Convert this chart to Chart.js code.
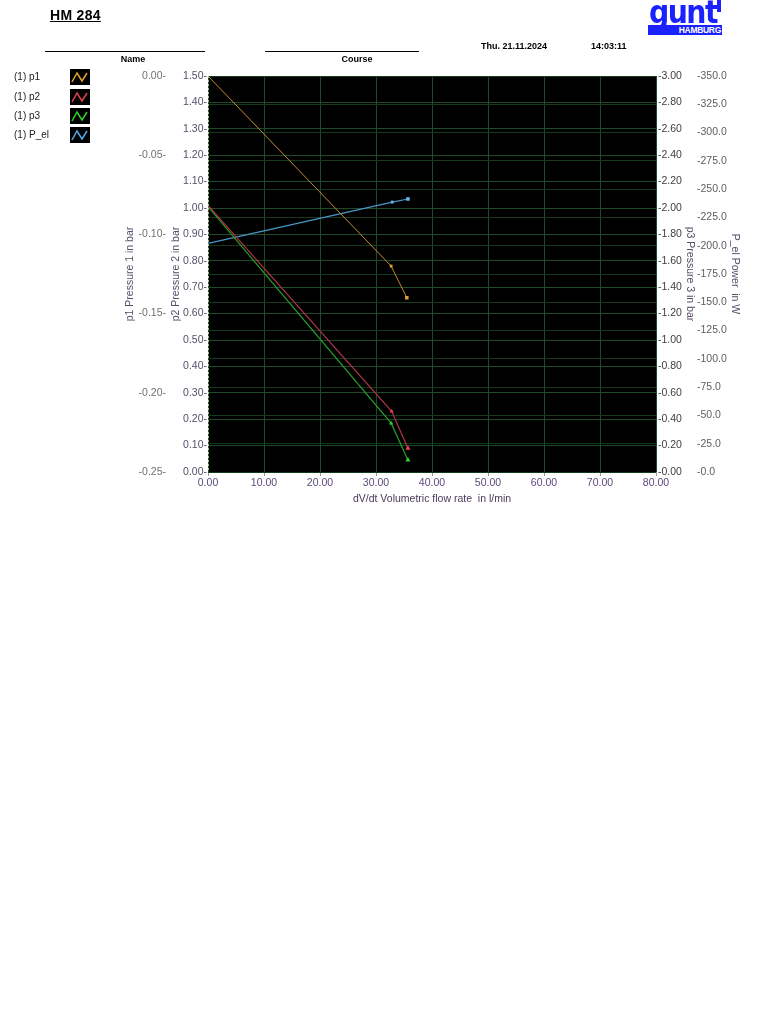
<!DOCTYPE html>
<html><head><meta charset="utf-8">
<script src="https://cdn.jsdelivr.net/npm/chart.js@4"></script>
<style>
body{margin:0;background:#fff;width:768px;height:1024px;position:relative;font-family:"Liberation Sans Narrow","Liberation Sans",Arial,sans-serif;overflow:hidden}
#wrap{position:absolute;left:0;top:0;width:768px;height:508px;}
.t{position:absolute;white-space:nowrap;font-size:10px;color:#000}
.ln{position:absolute;height:0;border-top:1px solid #000}
.lg{position:absolute;left:14px;font-family:"Liberation Sans",Arial,sans-serif;font-size:10px;color:#222}
.ic{position:absolute;left:70px;width:20px;height:16px}
</style></head><body>
<div id="wrap"><canvas id="c" width="768" height="508"></canvas></div>

<div class="t" style="left:50px;top:7px;font-size:14px;font-weight:bold;text-decoration:underline;letter-spacing:0.3px">HM 284</div>
<div class="ln" style="left:45px;top:51px;width:160px"></div>
<div class="t" style="left:105px;top:54px;width:56px;text-align:center;font-weight:bold;font-size:9px">Name</div>
<div class="ln" style="left:265px;top:51px;width:154px"></div>
<div class="t" style="left:315px;top:54px;width:84px;text-align:center;font-weight:bold;font-size:9px">Course</div>
<div class="t" style="left:481px;top:41px;font-weight:bold;font-size:9px">Thu. 21.11.2024</div>
<div class="t" style="left:591px;top:41px;font-weight:bold;font-size:9px">14:03:11</div>

<div style="position:absolute;left:648px;top:0px;width:75px;height:36px;overflow:hidden">
  <div style="position:absolute;left:1px;top:-3px;font-family:'DejaVu Sans',sans-serif;font-weight:bold;font-size:27px;color:#1a22ff;letter-spacing:-1.5px;line-height:27px;transform:scale(1.05,1.15);transform-origin:0 0">gunt</div>
  <div style="position:absolute;left:0;top:25px;width:74px;height:10px;background:#1a22ff;color:#fff;font-size:8.5px;line-height:10px;text-align:right;font-family:'Liberation Sans',sans-serif;font-weight:bold;padding-right:1px;box-sizing:border-box;letter-spacing:-0.3px">HAMBURG</div>
</div>
<div style="position:absolute;left:717px;top:0px;width:4px;height:12px;background:#1a22ff"></div>

<div class="lg" style="top:71px">(1) p1</div>
<div class="lg" style="top:91px">(1) p2</div>
<div class="lg" style="top:110px">(1) p3</div>
<div class="lg" style="top:129px">(1) P_el</div>
<svg class="ic" style="top:69px" viewBox="0 0 20 16"><rect width="20" height="16" fill="#000"/><polyline points="2,13 7,4 12,12 17,4" fill="none" stroke="#e0a030" stroke-width="1.5"/></svg>
<svg class="ic" style="top:89px" viewBox="0 0 20 16"><rect width="20" height="16" fill="#000"/><polyline points="2,13 7,4 12,12 17,4" fill="none" stroke="#e04050" stroke-width="1.5"/></svg>
<svg class="ic" style="top:108px" viewBox="0 0 20 16"><rect width="20" height="16" fill="#000"/><polyline points="2,13 7,4 12,12 17,4" fill="none" stroke="#30d030" stroke-width="1.5"/></svg>
<svg class="ic" style="top:127px" viewBox="0 0 20 16"><rect width="20" height="16" fill="#000"/><polyline points="2,13 7,4 12,12 17,4" fill="none" stroke="#50a8e8" stroke-width="1.5"/></svg>

<script>
// ---- data ----
const flowP1 = [0, 32.7, 35.5];
const p1Values = [0.00, -0.12, -0.14];
const flowP2 = [0, 32.8, 35.7];
const p2Values = [1.01, 0.23, 0.09];
const flowP3 = [0, 32.7, 35.7];
const p3Values = [-2.01, -0.37, -0.09];
const flowPel = [0, 32.9, 35.7];
const pelValues = [-202, -238.6, -241.3];

// ---- tick labels ----
const xTicks = [0, 10, 20, 30, 40, 50, 60, 70, 80];
const p1Ticks = [0, -0.05, -0.10, -0.15, -0.20, -0.25];
const p2Ticks = [0, 0.1, 0.2, 0.3, 0.4, 0.5, 0.6, 0.7, 0.8, 0.9, 1.0, 1.1, 1.2, 1.3, 1.4, 1.5];
const p3Ticks = [-3.0, -2.8, -2.6, -2.4, -2.2, -2.0, -1.8, -1.6, -1.4, -1.2, -1.0, -0.8, -0.6, -0.4, -0.2, 0];
const pelTicks = [-350, -325, -300, -275, -250, -225, -200, -175, -150, -125, -100, -75, -50, -25, 0];

const pts = (xs, ys) => xs.map((x, i) => ({x: x, y: ys[i]}));
const setTicks = arr => (s => { s.ticks = arr.map(v => ({value: v})); });
const FONT = {family: "'Liberation Sans', Arial, sans-serif", size: 10.5};
const TFONT = {family: "'Liberation Sans', Arial, sans-serif", size: 10.5};

const bg = {
  id: 'bg',
  beforeDraw(chart) {
    const a = chart.chartArea, ctx = chart.ctx;
    ctx.save(); ctx.fillStyle = '#000';
    ctx.fillRect(a.left, a.top, a.right - a.left, a.bottom - a.top);
    ctx.restore();
  }
};

new Chart(document.getElementById('c'), {
  type: 'line',
  data: {
    datasets: [
      {label: 'p1', data: pts(flowP1, p1Values), yAxisID: 'yP1', borderColor: '#c88a30', backgroundColor: '#e0a030', borderWidth: 1, pointStyle: 'rect', pointRadius: [0, 2, 2.5], pointBorderWidth: 0},
      {label: 'p2', data: pts(flowP2, p2Values), yAxisID: 'yP2', borderColor: '#b03545', backgroundColor: '#e04050', borderWidth: 1.2, pointStyle: 'triangle', pointRadius: [0, 2.5, 3], pointBorderWidth: 0},
      {label: 'p3', data: pts(flowP3, p3Values), yAxisID: 'yP3', borderColor: '#28a028', backgroundColor: '#30d030', borderWidth: 1.2, pointStyle: 'triangle', pointRadius: [0, 2.5, 3], pointBorderWidth: 0},
      {label: 'P_el', data: pts(flowPel, pelValues), yAxisID: 'yPel', borderColor: '#4a98c8', backgroundColor: '#60b8f0', borderWidth: 1.2, pointStyle: 'rect', pointRadius: [0, 2, 2.5], pointBorderWidth: 0}
    ]
  },
  options: {
    responsive: false, animation: false, devicePixelRatio: 1,
    layout: {padding: {top: 76, left: 0, right: 0, bottom: 0}},
    plugins: {legend: {display: false}, tooltip: {enabled: false}},
    scales: {
      x: {
        type: 'linear', position: 'bottom', min: 0, max: 80,
        afterBuildTicks: setTicks(xTicks),
        afterFit: s => { s.height = 36; },
        grid: {color: '#1c4a2a', lineWidth: 1, drawTicks: true, tickLength: 4, tickColor: '#999'},
        border: {display: false},
        ticks: {font: FONT, color: '#5a4a78', padding: 1, maxRotation: 0, autoSkip: false, callback: v => v.toFixed(2)},
        title: {display: true, text: 'dV/dt Volumetric flow rate  in l/min', font: TFONT, color: '#4a3a5a', padding: {top: 0, bottom: 3}}
      },
      yP1: {
        type: 'linear', position: 'left', weight: 2, min: -0.25, max: 0,
        afterBuildTicks: setTicks(p1Ticks),
        afterFit: s => { s.width = 170; },
        grid: {display: false, drawTicks: false},
        border: {display: false},
        ticks: {font: FONT, color: '#707070', padding: 4, autoSkip: false, callback: v => v.toFixed(2) + '-'},
        title: {display: true, text: 'p1 Pressure 1 in bar', font: TFONT, color: '#5a4a6a', padding: {top: 124, bottom: 0}}
      },
      yP2: {
        type: 'linear', position: 'left', weight: 1, min: 0, max: 1.5,
        afterBuildTicks: setTicks(p2Ticks),
        afterFit: s => { s.width = 38; },
        grid: {color: '#1c4a2a', lineWidth: 1, drawTicks: false},
        border: {display: false},
        ticks: {font: FONT, color: '#50506a', padding: 1, autoSkip: false, callback: v => v.toFixed(2) + '-'},
        title: {display: true, text: 'p2 Pressure 2 in bar', font: TFONT, color: '#5a4a6a', padding: {top: 0, bottom: 0}}
      },
      yP3: {
        type: 'linear', position: 'right', weight: 1, min: -3, max: 0, reverse: true,
        afterBuildTicks: setTicks(p3Ticks),
        afterFit: s => { s.width = 40; },
        grid: {display: false, drawTicks: false},
        border: {display: false},
        ticks: {font: FONT, color: '#404040', padding: 2, autoSkip: false, callback: v => '-' + Math.abs(v).toFixed(2)},
        title: {display: true, text: 'p3 Pressure 3 in bar', font: TFONT, color: '#5a4a6a', padding: {top: 0, bottom: 0}}
      },
      yPel: {
        type: 'linear', position: 'right', weight: 2, min: -350, max: 0, reverse: true,
        afterBuildTicks: setTicks(pelTicks),
        afterFit: s => { s.width = 72; },
        grid: {color: '#15381f', lineWidth: 1, drawTicks: false},
        border: {display: false},
        ticks: {font: FONT, color: '#606060', padding: 1, autoSkip: false, callback: v => '-' + Math.abs(v).toFixed(1)},
        title: {display: true, text: 'P_el Power  in W', font: TFONT, color: '#5a4a6a', padding: {top: 27, bottom: 0}}
      }
    }
  },
  plugins: [bg,
    {id: 'leftEdge', afterDraw(chart) {
      const a = chart.chartArea, ctx = chart.ctx;
      ctx.save(); ctx.strokeStyle = '#a8c080'; ctx.setLineDash([2, 2]); ctx.lineWidth = 1;
      ctx.beginPath(); ctx.moveTo(a.left + 0.5, a.top); ctx.lineTo(a.left + 0.5, a.bottom); ctx.stroke();
      ctx.restore();
    }}
  ]
});
</script>
</body></html>
